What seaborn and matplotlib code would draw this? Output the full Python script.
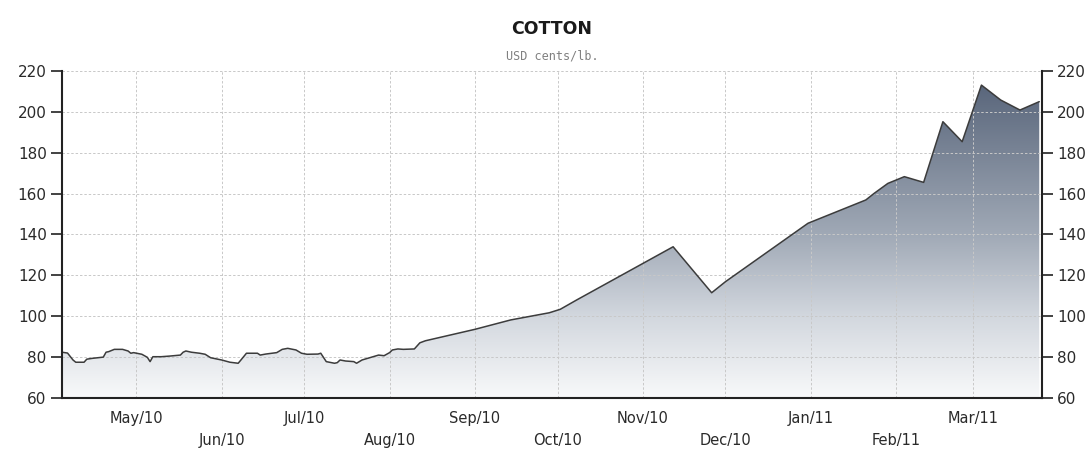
import matplotlib
matplotlib.use("Agg")
import matplotlib.pyplot as plt
import matplotlib.dates as mdates
from matplotlib.colors import LinearSegmentedColormap
import numpy as np
import pandas as pd
import seaborn as sns

# Cotton price, USD cents per pound
dates = [
    "2010-04-04", "2010-04-06", "2010-04-08", "2010-04-09", "2010-04-12", "2010-04-13",
    "2010-04-15", "2010-04-19", "2010-04-20", "2010-04-21", "2010-04-23", "2010-04-26",
    "2010-04-28", "2010-04-29", "2010-04-30", "2010-05-03", "2010-05-05", "2010-05-06",
    "2010-05-07", "2010-05-10", "2010-05-13", "2010-05-17", "2010-05-18", "2010-05-19",
    "2010-05-21", "2010-05-24", "2010-05-26", "2010-05-28", "2010-06-01", "2010-06-04",
    "2010-06-07", "2010-06-08", "2010-06-10", "2010-06-14", "2010-06-15", "2010-06-17",
    "2010-06-21", "2010-06-23", "2010-06-25", "2010-06-28", "2010-06-30", "2010-07-02",
    "2010-07-06", "2010-07-07", "2010-07-09", "2010-07-12", "2010-07-13", "2010-07-14",
    "2010-07-16", "2010-07-19", "2010-07-20", "2010-07-22", "2010-07-26", "2010-07-28",
    "2010-07-30", "2010-08-01", "2010-08-02", "2010-08-04", "2010-08-06", "2010-08-10",
    "2010-08-12", "2010-08-14", "2010-09-01", "2010-09-14", "2010-09-28", "2010-10-02",
    "2010-10-08", "2010-11-12", "2010-11-26", "2010-12-01", "2010-12-31", "2011-01-21",
    "2011-01-24", "2011-01-29", "2011-02-04", "2011-02-11", "2011-02-18", "2011-02-25",
    "2011-03-04", "2011-03-11", "2011-03-18", "2011-03-25",
]
prices = [
    82.4, 82.0, 78.6, 77.5, 77.5, 79.0,
    79.4, 80.0, 82.4, 82.7, 83.8, 83.8,
    83.0, 81.9, 82.2, 81.4, 79.9, 77.8,
    80.2, 80.2, 80.5, 81.0, 82.4, 83.0,
    82.4, 81.9, 81.4, 79.7, 78.6, 77.5,
    77.0, 78.6, 81.9, 81.9, 81.0, 81.5,
    82.2, 83.8, 84.3, 83.5, 81.9, 81.4,
    81.5, 81.9, 77.8, 77.0, 77.3, 78.6,
    78.1, 77.8, 77.0, 78.6, 80.2, 81.0,
    80.7, 82.2, 83.5, 84.0, 83.8, 84.0,
    87.0, 88.0, 93.6, 98.2, 101.7, 103.4,
    108.0, 134.0, 111.5, 116.9, 145.5, 156.9,
    160.1, 165.0, 168.3, 165.5, 195.2, 185.4,
    213.1, 205.8, 200.9, 205.0,
]

# Axis ticks
month_ticks = ["2010-05-01", "2010-06-01", "2010-07-01", "2010-08-01", "2010-09-01",
               "2010-10-01", "2010-11-01", "2010-12-01", "2011-01-01", "2011-02-01",
               "2011-03-01"]
month_labels = ["May/10", "Jun/10", "Jul/10", "Aug/10", "Sep/10", "Oct/10",
                "Nov/10", "Dec/10", "Jan/11", "Feb/11", "Mar/11"]
y_ticks = [60, 80, 100, 120, 140, 160, 180, 200, 220]

title = "COTTON"
subtitle = "USD cents/lb."

df = pd.DataFrame({"date": pd.to_datetime(dates), "price": prices})

sns.set_style("white")
plt.rcParams["font.family"] = ["DejaVu Sans"]

fig = plt.figure(figsize=(10.91, 4.51), dpi=100)
ax = fig.add_axes([62 / 1091, 1 - 398 / 451, (1042 - 62) / 1091, (398 - 71) / 451])

x0 = pd.Timestamp("2010-04-04")
x1 = pd.Timestamp("2011-03-26")
ax.set_xlim(x0, x1)
ax.set_ylim(60, 220)

# Gradient-filled area under the price line
poly = ax.fill_between(df["date"], df["price"], 60, facecolor="none", edgecolor="none")
cmap = LinearSegmentedColormap.from_list(
    "slate",
    [(0.0, "#f8f9fa"), (0.25, "#d2d7de"), (0.5, "#a0a9b6"), (1.0, "#536076")],
)
grad = np.linspace(0, 1, 256).reshape(-1, 1)
img = ax.imshow(
    grad, cmap=cmap, origin="lower", aspect="auto",
    extent=[mdates.date2num(x0), mdates.date2num(x1), 60, 220], zorder=1,
)
img.set_clip_path(poly.get_paths()[0], transform=ax.transData)

sns.lineplot(data=df, x="date", y="price", ax=ax, color="#3c3c3c", linewidth=1.1, zorder=3)

# Month ticks, alternating between two label rows
tick_dates = pd.to_datetime(month_ticks)
major_idx = list(range(0, len(tick_dates), 2))
minor_idx = list(range(1, len(tick_dates), 2))
ax.set_xticks([tick_dates[i] for i in major_idx])
ax.set_xticklabels([month_labels[i] for i in major_idx])
ax.set_xticks([tick_dates[i] for i in minor_idx], minor=True)
ax.set_xticklabels([month_labels[i] for i in minor_idx], minor=True)
ax.tick_params(axis="x", which="both", direction="out", length=6, width=1.2,
               color="#222222", labelsize=10.5, labelcolor="#2a2a2a")
ax.tick_params(axis="x", which="major", pad=3)
ax.tick_params(axis="x", which="minor", pad=19)

ax.set_yticks(y_ticks)
ax.tick_params(axis="y", which="both", direction="out", length=8, width=1.2,
               color="#222222", labelsize=11, labelcolor="#2a2a2a",
               left=True, right=True, labelleft=True, labelright=True, pad=3)

ax.set_xlabel("")
ax.set_ylabel("")

grid_kw = dict(color="#c8c8c8", linestyle=(0, (2.5, 2)), linewidth=0.7, zorder=2)
for t in tick_dates:
    ax.axvline(t, **grid_kw)
for v in y_ticks[1:]:
    ax.axhline(v, **grid_kw)

for side in ["left", "right", "bottom"]:
    ax.spines[side].set_visible(True)
    ax.spines[side].set_color("#222222")
    ax.spines[side].set_linewidth(1.5)
    ax.spines[side].set_zorder(5)
ax.spines["top"].set_visible(False)

cx = (62 + 1042) / 2 / 1091
fig.text(cx, 1 - 29 / 451, title, ha="center", va="center",
         fontsize=12.5, fontweight="bold", color="#1a1a1a")
fig.text(cx, 1 - 56 / 451, subtitle, ha="center", va="center",
         fontsize=8.5, family="DejaVu Sans Mono", color="#808080")

fig.savefig("out.png", dpi=100)
